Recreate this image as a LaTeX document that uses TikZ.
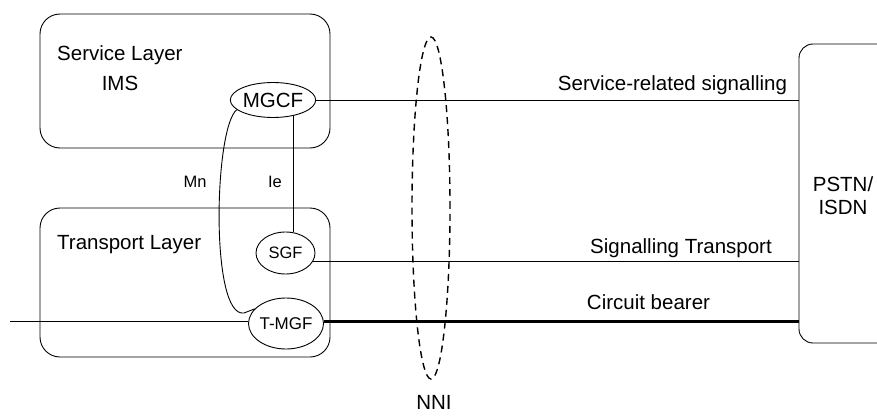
\documentclass[tikz,border=0pt]{standalone}
\usepackage{fontspec}
\setmainfont{Liberation Sans}
\usetikzlibrary{shapes.geometric}
\begin{document}
\begin{tikzpicture}[x=1pt,y=-1pt,
  lbl/.style={font=\fontsize{20.5}{24}\selectfont, inner sep=0pt},
  sml/.style={font=\fontsize{16.5}{20}\selectfont, inner sep=0pt},
  layerbox/.style={draw, line width=0.9pt, rounded corners=20pt, inner sep=0pt},
  func/.style={draw, ellipse, line width=0.9pt, inner sep=0pt},
  thin/.style={line width=0.9pt},
  thick3/.style={line width=2.8pt}]
\useasboundingbox (0,0) rectangle (877,417);
\clip (0,0) rectangle (877,417);
% boxes
\node[layerbox, minimum width=290pt, minimum height=134pt] (svc) at (185,81) {};
\node[layerbox, minimum width=290pt, minimum height=149pt] (trp) at (185,282.5) {};
\node[layerbox, rounded corners=14pt, minimum width=110pt, minimum height=299pt] (pstn) at (854,193.5) {};
% texts in boxes
\node[lbl, anchor=west] (svct) at (57,55) {Service Layer};
\node[lbl] (ims) at (120,83) {IMS};
\node[lbl, anchor=west] (trpt) at (57,245) {Transport Layer};
\node[lbl, align=center] (pstnt) at (843,196) {PSTN/\\[-1pt]ISDN};
% functions
\node[func, lbl, minimum width=82pt, minimum height=35pt] (mgcf) at (273,100) {MGCF};
\node[func, sml, minimum width=59pt, minimum height=42pt] (sgf) at (285.5,253) {SGF};
\node[func, font=\fontsize{17}{20}\selectfont, minimum width=75pt, minimum height=51pt] (tmgf) at (286,323.5) {T-MGF};
% NNI
\node[draw, ellipse, dashed, line width=1.4pt, dash pattern=on 7pt off 5pt, minimum width=38pt, minimum height=342pt, inner sep=0pt] (nni) at (431,208) {};
\node[lbl] (nnit) at (434,402) {NNI};
% interfaces
\draw[thin] (mgcf.-37) -- (mgcf.-37 |- sgf.north);
\draw[thin] (mgcf.195) .. controls (214,128) and (210,318) .. (244,313) -- (tmgf.155);
\node[sml] (mn) at (195,182) {Mn};
\node[sml] (ie) at (275,182) {Ie};
% lines to PSTN
\draw[thin] (mgcf.east) -- (pstn.west |- mgcf.east);
\draw[thin] (sgf.-17) -- (pstn.west |- sgf.-17);
\coordinate (lft) at (10,321.5);
\draw[thin] (lft) -- (tmgf.west |- lft);
\draw[thick3] (tmgf.east |- lft) -- (pstn.west |- lft);
\node[lbl] (srs) at (672.5,85) {Service-related signalling};
\node[lbl] (st) at (681,248) {Signalling Transport};
\node[lbl] (cb) at (648.5,302) {Circuit bearer};
\end{tikzpicture}
\end{document}
